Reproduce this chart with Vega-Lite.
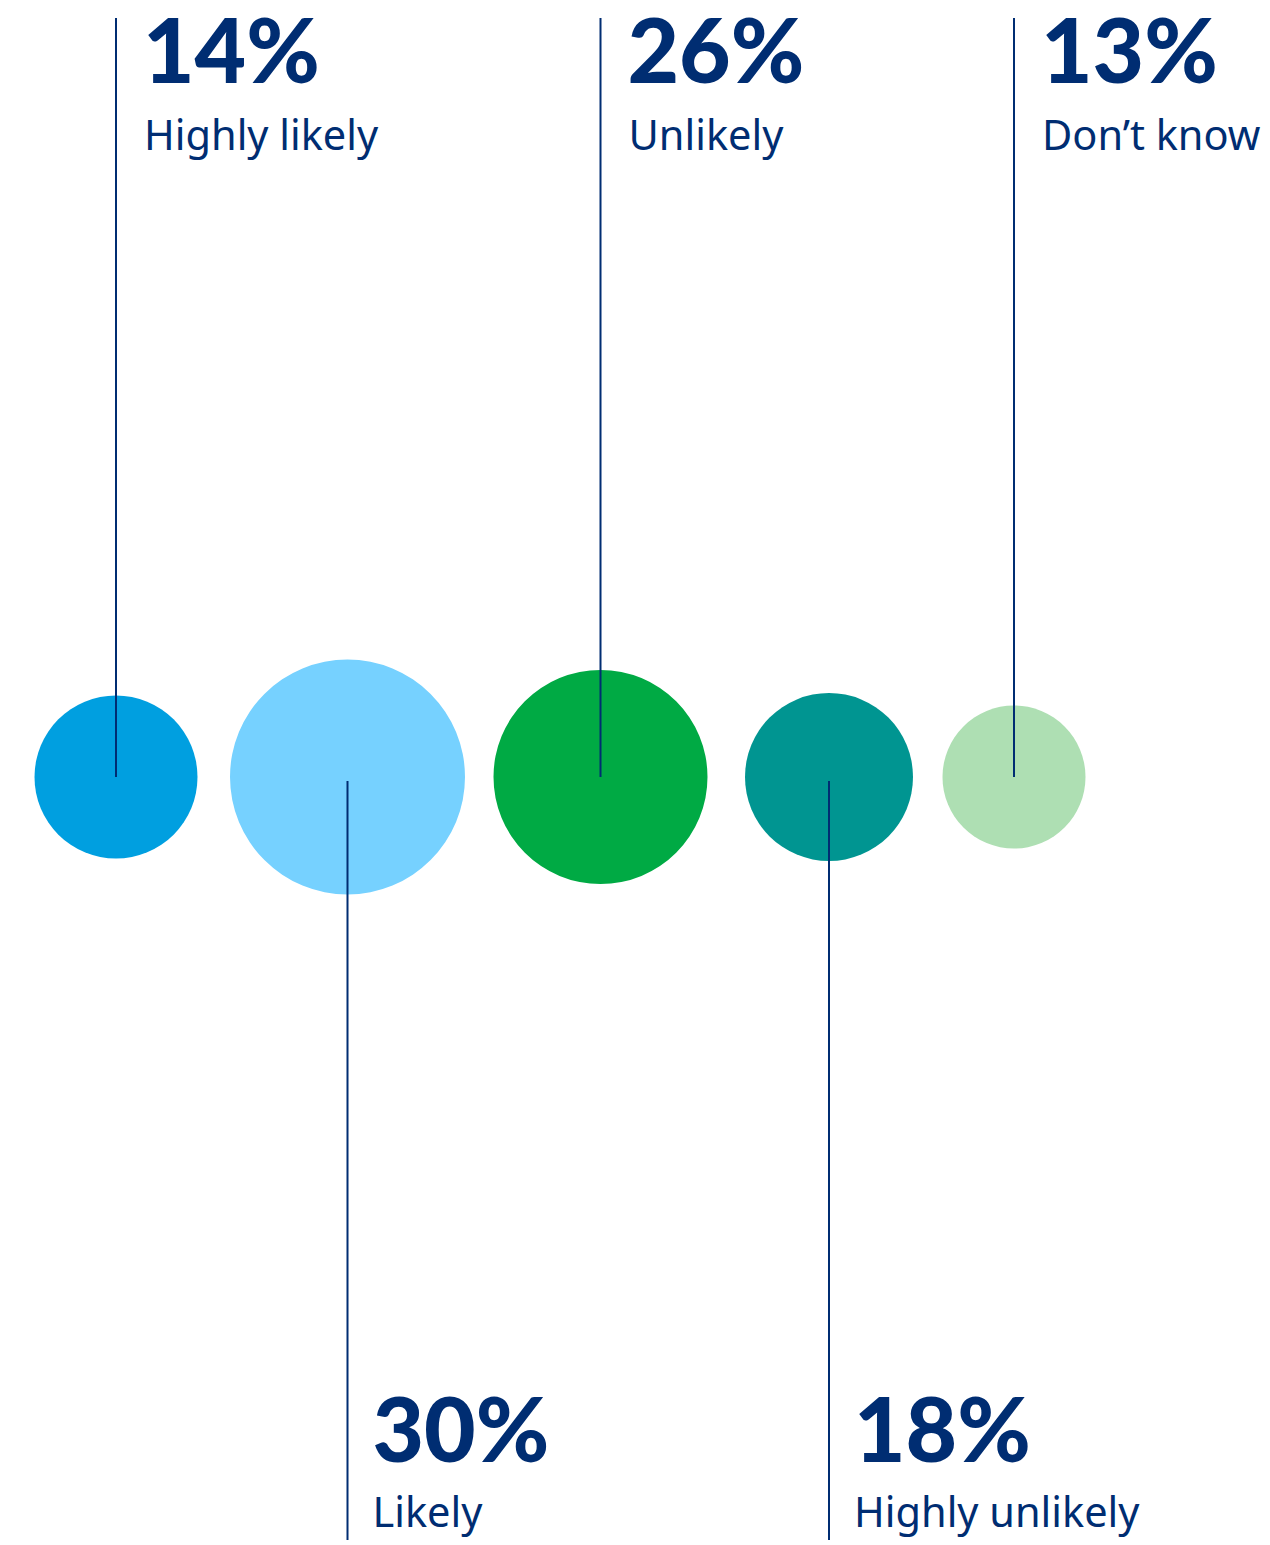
{
  "$schema": "https://vega.github.io/schema/vega-lite/v6.json",
  "width": 1270,
  "height": 1545,
  "autosize": {"type": "fit", "contains": "padding"},
  "padding": 0,
  "background": "#ffffff",
  "config": {"view": {"stroke": null}},
  "data": {
    "values": [
      {"label": "Highly likely", "pct": 14, "pctText": "14%", "pos": 116, "side": "up"},
      {"label": "Likely", "pct": 30, "pctText": "30%", "pos": 347.5, "side": "down"},
      {"label": "Unlikely", "pct": 26, "pctText": "26%", "pos": 600.5, "side": "up"},
      {"label": "Highly unlikely", "pct": 18, "pctText": "18%", "pos": 829, "side": "down"},
      {"label": "Don’t know", "pct": 13, "pctText": "13%", "pos": 1014, "side": "up"}
    ]
  },
  "encoding": {
    "x": {"field": "pos", "type": "quantitative", "scale": {"domain": [0, 1270], "nice": false, "zero": false}, "axis": null}
  },
  "layer": [
    {
      "mark": {"type": "point", "filled": true, "shape": "circle", "opacity": 1, "strokeWidth": 0},
      "encoding": {
        "y": {"datum": 0, "type": "quantitative", "scale": {"domain": [-768, 777], "nice": false, "zero": false}, "axis": null},
        "size": {"field": "pct", "type": "quantitative", "scale": {"domain": [13, 14, 18, 26, 30], "range": [20449, 26569, 28224, 45796, 55225]}, "legend": null},
        "color": {"field": "label", "type": "nominal", "scale": {"domain": ["Highly likely", "Likely", "Unlikely", "Highly unlikely", "Don’t know"], "range": ["#009FE0", "#76D1FF", "#00AA44", "#009591", "#AEDFB3"]}, "legend": null}
      }
    },
    {
      "transform": [{"filter": "datum.side === 'up'"}],
      "mark": {"type": "rule", "color": "#002D72", "strokeWidth": 2},
      "encoding": {
        "y": {"datum": 0, "type": "quantitative", "scale": {"domain": [-768, 777], "nice": false, "zero": false}, "axis": null},
        "y2": {"datum": 759}
      }
    },
    {
      "transform": [{"filter": "datum.side === 'down'"}],
      "mark": {"type": "rule", "color": "#002D72", "strokeWidth": 2},
      "encoding": {
        "y": {"datum": -4, "type": "quantitative", "scale": {"domain": [-768, 777], "nice": false, "zero": false}, "axis": null},
        "y2": {"datum": -763}
      }
    },
    {
      "transform": [{"filter": "datum.side === 'up'"}],
      "mark": {"type": "text", "align": "left", "baseline": "alphabetic", "dx": 27, "font": "Lato", "fontWeight": 900, "fontSize": 89, "color": "#002D72"},
      "encoding": {
        "y": {"datum": 694, "type": "quantitative", "scale": {"domain": [-768, 777], "nice": false, "zero": false}, "axis": null},
        "text": {"field": "pctText"}
      }
    },
    {
      "transform": [{"filter": "datum.side === 'up'"}],
      "mark": {"type": "text", "align": "left", "baseline": "alphabetic", "dx": 28, "font": "Noto Sans", "fontSize": 41.5, "color": "#002D72"},
      "encoding": {
        "y": {"datum": 627, "type": "quantitative", "scale": {"domain": [-768, 777], "nice": false, "zero": false}, "axis": null},
        "text": {"field": "label"}
      }
    },
    {
      "transform": [{"filter": "datum.side === 'down'"}],
      "mark": {"type": "text", "align": "left", "baseline": "alphabetic", "dx": 25, "font": "Lato", "fontWeight": 900, "fontSize": 89, "color": "#002D72"},
      "encoding": {
        "y": {"datum": -685, "type": "quantitative", "scale": {"domain": [-768, 777], "nice": false, "zero": false}, "axis": null},
        "text": {"field": "pctText"}
      }
    },
    {
      "transform": [{"filter": "datum.side === 'down'"}],
      "mark": {"type": "text", "align": "left", "baseline": "alphabetic", "dx": 25, "font": "Noto Sans", "fontSize": 41.5, "color": "#002D72"},
      "encoding": {
        "y": {"datum": -750, "type": "quantitative", "scale": {"domain": [-768, 777], "nice": false, "zero": false}, "axis": null},
        "text": {"field": "label"}
      }
    }
  ]
}
